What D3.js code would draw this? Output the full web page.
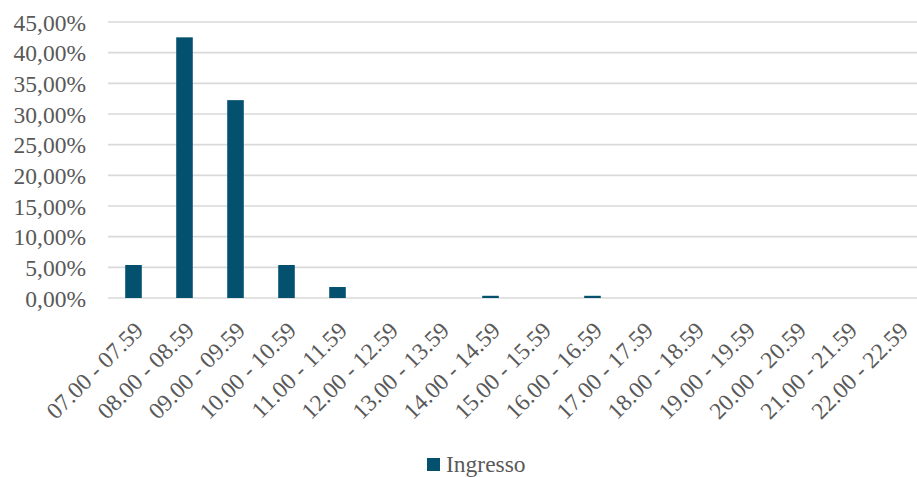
<!DOCTYPE html>
<html>
<head>
<meta charset="utf-8">
<script src="https://cdn.jsdelivr.net/npm/d3@7"></script>
<style>
  body { margin: 0; background: #fff; }
</style>
</head>
<body>
<svg id="chart" width="917" height="477"></svg>
<script>
var fasce = ['07.00 - 07.59', '08.00 - 08.59', '09.00 - 09.59', '10.00 - 10.59',
  '11.00 - 11.59', '12.00 - 12.59', '13.00 - 13.59', '14.00 - 14.59',
  '15.00 - 15.59', '16.00 - 16.59', '17.00 - 17.59', '18.00 - 18.59',
  '19.00 - 19.59', '20.00 - 20.59', '21.00 - 21.59', '22.00 - 22.59'];
var ingresso = [5.38, 42.5, 32.26, 5.38, 1.79, 0, 0, 0.36, 0, 0.36, 0, 0, 0, 0, 0, 0];
var yTicks = [0, 5, 10, 15, 20, 25, 30, 35, 40, 45];

var font = 'Liberation Serif';
var fontSize = 23.5;
var svg = d3.select('#chart');
var margin = { left: 108, right: 924, top: 22, bottom: 298 };

var xScale = d3.scaleBand()
  .domain(fasce)
  .range([margin.left, margin.right])
  .paddingInner(0.675)
  .paddingOuter(0.3375);

var yScale = d3.scaleLinear()
  .domain([0, 45])
  .range([margin.bottom, margin.top]);

var fmt = function (v) { return v.toFixed(2).replace('.', ',') + '%'; };

// gridlines
svg.append('g')
  .selectAll('line')
  .data(yTicks)
  .enter()
  .append('line')
  .attr('x1', margin.left)
  .attr('x2', margin.right)
  .attr('y1', d => yScale(d))
  .attr('y2', d => yScale(d))
  .attr('stroke', '#d9d9d9')
  .attr('stroke-width', 1.6);

// y labels
var yAxis = svg.append('g')
  .attr('transform', 'translate(' + (margin.left - 22) + ',0)')
  .call(d3.axisLeft(yScale).tickValues(yTicks).tickFormat(fmt).tickSize(0).tickPadding(0))
  .attr('font-family', font)
  .attr('font-size', fontSize);
yAxis.select('.domain').remove();
yAxis.selectAll('text')
  .attr('fill', '#595959')
  .attr('dy', '0.34em');

// bars
svg.selectAll('.bar')
  .data(ingresso)
  .enter()
  .append('rect')
  .attr('class', 'bar')
  .attr('x', (d, i) => xScale(fasce[i]))
  .attr('width', xScale.bandwidth())
  .attr('y', d => yScale(d))
  .attr('height', d => margin.bottom - yScale(d))
  .attr('fill', '#03506f');

// x labels
var xAxis = svg.append('g')
  .attr('transform', 'translate(0,' + margin.bottom + ')')
  .call(d3.axisBottom(xScale).tickSize(0).tickPadding(0))
  .attr('font-family', font)
  .attr('font-size', fontSize);
xAxis.select('.domain').remove();
xAxis.selectAll('text')
  .attr('fill', '#595959')
  .attr('text-anchor', 'end')
  .attr('y', 0)
  .attr('dy', null)
  .attr('transform', 'translate(11,34) rotate(-45)');

// legend
var legend = svg.append('g').attr('transform', 'translate(427,458)');
legend.append('rect')
  .attr('width', 13)
  .attr('height', 13)
  .attr('fill', '#03506f');
legend.append('text')
  .attr('x', 19)
  .attr('y', 14)
  .attr('font-family', font)
  .attr('font-size', fontSize)
  .attr('fill', '#595959')
  .text('Ingresso');
</script>
</body>
</html>
